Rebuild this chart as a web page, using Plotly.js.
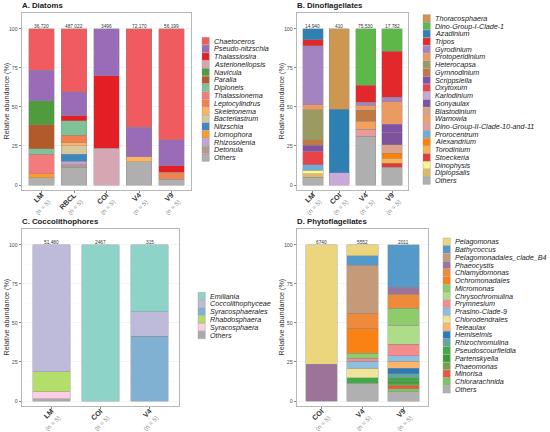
<!DOCTYPE html>
<html><head><meta charset="utf-8">
<script src="https://cdn.plot.ly/plotly-3.0.1.min.js"></script>
<style>html,body{margin:0;padding:0;background:#fff}#chart{width:550px;height:432px}</style>
</head><body><div id="chart"></div>
<script>
// ---------- Panel A: Diatoms ----------
const samplesA = ['LM','RBCL','COI','V4','V9'];
const totalsA = ['36,720','487,022','3496','72,170','56,199'];
const taxaA = ['Chaetoceros','Pseudo-nitzschia','Thalassiosira','Asterionellopsis','Navicula','Paralia','Diploneis','Thalassionema','Leptocylindrus','Skeletonema','Bacteriastrum','Nitzschia','Liomophora','Rhizosolenia','Detonula','Others'];
const colorsA = ['#F05B5F','#9A6BB6','#E31E24','#D6A7B3','#4F9B3E','#B25A2A','#80C197','#F47B7B','#F08150','#FDB462','#D9C79C','#3A87C1','#FF9A2B','#BFA2D6','#B49A8E','#AFAFAF'];
const valsA = [
  [26.4,40.3,0,62.9,71.0],
  [19.7,15.4,29.9,19.0,16.6],
  [0,3.2,46.4,0,4.3],
  [0,0,23.7,0,0],
  [15.3,0,0,0,0],
  [15.4,0,0,0,0],
  [3.4,9.1,0,0,0],
  [12.6,0,0,0,0],
  [0,4.9,0,0,4.5],
  [0,2.1,0,3.2,0],
  [0,5.2,0,0,0],
  [0,4.6,0,0,0],
  [2.7,0,0,0,0],
  [0,2.2,0,0,0],
  [0,1.8,0,0,0],
  [4.5,11.2,0,14.9,3.6]
];
// ---------- Panel B: Dinoflagellates ----------
const samplesB = ['LM','COI','V4','V9'];
const totalsB = ['14,940','410','75,530','17,782'];
const taxaB = ['Thoracosphaera','Dino-Group-I-Clade-1','Azadinium','Tripos','Gyrodinium','Protoperidinium','Heterocapsa','Gymnodinium','Scrippsiella','Oxytoxum','Karlodinium','Gonyaulax','Blastodinium','Warnowia','Dino-Group-II-Clade-10-and-11','Prorocentrum','Alexandrium','Torodinium','Stoeckeria','Dinophysis','Diplopsalis','Others'];
const colorsB = ['#CD9651','#5DB849','#2D80B1','#E3282B','#A583C1','#EB9B61','#9B9B61','#C17941','#8151A9','#E8434B','#C9A9D9','#7F539B','#DCA189','#F5A15B','#E99B99','#6CAED7','#FF8001','#FDB250','#E33939','#FFF68D','#DEB969','#AFAFAF'];
const valsB = [
  [0,51.4,0,0],
  [0,0,36.0,14.3],
  [7.0,40.9,0,0],
  [3.9,0,11.1,29.6],
  [37.7,0,1.9,2.6],
  [3.2,0,3.2,14.5],
  [19.2,0,0,0],
  [3.6,0,7.1,0],
  [3.9,0,0,5.1],
  [8.5,0,0,0],
  [0,7.7,0,0],
  [0,0,0,8.1],
  [0,0,0,5.3],
  [0,0,4.9,0],
  [0,0,4.7,0],
  [3.4,0,0,0],
  [0,0,0,3.4],
  [0,0,0,3.0],
  [0,0,0,2.8],
  [2.4,0,0,0],
  [2.3,0,0,0],
  [4.9,0,31.1,11.3]
];
// ---------- Panel C: Coccolithophores ----------
const samplesC = ['LM','COI','V4'];
const totalsC = ['51,480','2467','315'];
const taxaC = ['Emiliania','Coccolithophyceae','Syracosphaerales','Rhabdosphaera','Syracosphaera','Others'];
const colorsC = ['#8DD3C7','#BEBADA','#80B1D3','#B3DE69','#FCCDE5','#AAAAAA'];
const valsC = [
  [0,100,42.9],
  [81.2,0,15.7],
  [0,0,41.4],
  [12.8,0,0],
  [4.5,0,0],
  [1.5,0,0]
];
// ---------- Panel D: Phytoflagellates ----------
const samplesD = ['COI','V4','V9'];
const totalsD = ['6740','5552','2011'];
const taxaD = ['Pelagomonas','Bathycoccus','Pelagomonadales_clade_B4','Phaeocystis','Chlamydomonas','Ochromonadales','Micromonas','Chrysochromulina','Prymnesium','Prasino-Clade-9','Chlorodendrales','Teleaulax','Hemiselmis','Rhizochromulina','Pseudoscourfieldia','Partenskyella','Phaeomonas','Minorisa','Chlorarachnida','Others'];
const colorsD = ['#EBD67E','#5499CA','#C49A78','#9C7499','#EF8A3A','#FA8114','#8DCB6B','#AEDD8A','#F48B8D','#8EBFE0','#EFE59A','#FDB56C','#2A7AB9','#62A69F','#41A945','#33A02C','#759F4C','#E9573D','#7CC565','#B0B0B0'];
const valsD = [
  [76.5,7.0,0],
  [0,6.0,27.1],
  [0,30.9,0],
  [23.5,0,4.5],
  [0,9.4,9.1],
  [0,16.0,0],
  [0,3.4,10.7],
  [0,0,12.1],
  [0,1.9,7.5],
  [0,4.4,3.6],
  [0,6.0,0],
  [0,0,4.5],
  [0,0,3.4],
  [0,0,2.6],
  [0,3.5,2.4],
  [0,0,1.5],
  [0,0,1.2],
  [0,0,2.0],
  [0,0,2.0],
  [0,11.5,5.8]
];
const nLabel = '(n = 5)';

// ---------- layout helpers ----------
const W = 550, H = 432;
const FONT = 'Liberation Sans, Arial, Helvetica, sans-serif';
const px = v => v / W;
const py = v => 1 - v / H;

const panels = [
  {id:'', title:'A. Diatoms', samples:samplesA, totals:totalsA, taxa:taxaA, colors:colorsA, vals:valsA,
   box:[22,191,13,190], titleY:6, leg:{kx:202, tx:213, y0:41, dy:7.78}},
  {id:'2', title:'B. Dinoflagellates', samples:samplesB, totals:totalsB, taxa:taxaB, colors:colorsB, vals:valsB,
   box:[297,408,13,190], titleY:6, leg:{kx:423, tx:434, y0:18.3, dy:7.73}},
  {id:'3', title:'C. Coccolithophores', samples:samplesC, totals:totalsC, taxa:taxaC, colors:colorsC, vals:valsC,
   box:[22,179,229,406], titleY:222, leg:{kx:198, tx:209, y0:296, dy:7.8}},
  {id:'4', title:'D. Phytoflagellates', samples:samplesD, totals:totalsD, taxa:taxaD, colors:colorsD, vals:valsD,
   box:[297,428,229,406], titleY:222, leg:{kx:443, tx:454, y0:241.7, dy:7.77}}
];

const traces = [];
const layout = {
  width:W, height:H, margin:{l:0,r:0,t:0,b:0},
  paper_bgcolor:'#fff', plot_bgcolor:'#fff',
  barmode:'stack', showlegend:false,
  font:{family:FONT, color:'#333'},
  annotations:[], shapes:[]
};

panels.forEach(p => {
  const xa = 'x'+p.id, ya = 'y'+p.id;
  const [l,r,t,b] = p.box;
  // bars: reverse so first taxon is at top of stack
  for (let i = p.taxa.length-1; i >= 0; i--) {
    traces.push({
      type:'bar', x:p.samples, y:p.vals[i].map(v => v === 0 ? null : v),
      name:p.taxa[i], xaxis:xa, yaxis:ya, width:0.77,
      marker:{color:p.colors[i], line:{color:'#8a8a8a', width:0.4}},
      hovertemplate:p.taxa[i]+': %{y}%<extra></extra>'
    });
  }
  const n = p.samples.length;
  layout['xaxis'+p.id] = {
    domain:[px(l), px(r)], anchor:ya, type:'category',
    range:[-0.6, n-0.4], showgrid:false, zeroline:false,
    showline:true, mirror:true, linecolor:'#9a9a9a', linewidth:0.7,
    ticks:'outside', ticklen:2.5, tickwidth:0.6, tickcolor:'#333',
    tickangle:-45, tickvals:p.samples, ticklabelstandoff:-5,
    ticktext:p.samples.map(s => '<b>'+s+'</b><br><span style="color:#8c8c8c;font-size:6.2px">'+nLabel+'</span>'),
    tickfont:{size:7.2, color:'#333', family:FONT}, fixedrange:true
  };
  layout['yaxis'+p.id] = {
    domain:[py(b), py(t)], anchor:xa, range:[-3.2,110.2],
    tickmode:'linear', tick0:0, dtick:25,
    showgrid:true, gridcolor:'#EBEBEB', gridwidth:0.6,
    minor:{tick0:0, dtick:12.5, showgrid:true, gridcolor:'#F5F5F5', gridwidth:0.4},
    zeroline:false, showline:true, mirror:true, linecolor:'#9a9a9a', linewidth:0.7,
    ticks:'outside', ticklen:2.5, tickwidth:0.6, tickcolor:'#333',
    tickfont:{size:5.3, color:'#4d4d4d', family:FONT}, fixedrange:true
  };
  // panel title
  layout.annotations.push({xref:'paper', yref:'paper', x:px(l-1), y:py(p.titleY), xanchor:'left', yanchor:'middle',
    text:'<b>'+p.title+'</b>', showarrow:false, borderpad:0, font:{size:7.8, color:'#1a1a1a', family:FONT}});
  // y title
  layout.annotations.push({xref:'paper', yref:'paper', x:px(l-16), y:py((t+b)/2), xanchor:'center', yanchor:'middle',
    text:'Relative abundance (%)', textangle:-90, showarrow:false, borderpad:0, font:{size:7.2, color:'#333', family:FONT}});
  // totals above bars
  p.samples.forEach((s,k) => {
    layout.annotations.push({xref:xa, yref:ya, x:s, y:100, yanchor:'bottom', yshift:-1, borderpad:0,
      text:p.totals[k], showarrow:false, font:{size:4.8, color:'#333', family:FONT}});
  });
  // manual legend
  p.taxa.forEach((tx,i) => {
    const cy = p.leg.y0 + i*p.leg.dy;
    layout.shapes.push({type:'rect', xref:'paper', yref:'paper',
      x0:px(p.leg.kx), x1:px(p.leg.kx+7.3), y0:py(cy+3.7), y1:py(cy-3.7),
      fillcolor:p.colors[i], line:{color:'#9a9a9a', width:0.4}});
    layout.annotations.push({xref:'paper', yref:'paper', x:px(p.leg.tx), y:py(cy), xanchor:'left', yanchor:'middle',
      text:'<i>'+tx+'</i>', showarrow:false, borderpad:0, font:{size:7.2, color:'#1a1a1a', family:FONT}});
  });
});

Plotly.newPlot('chart', traces, layout, {staticPlot:true, displayModeBar:false});
</script>
</body></html>
